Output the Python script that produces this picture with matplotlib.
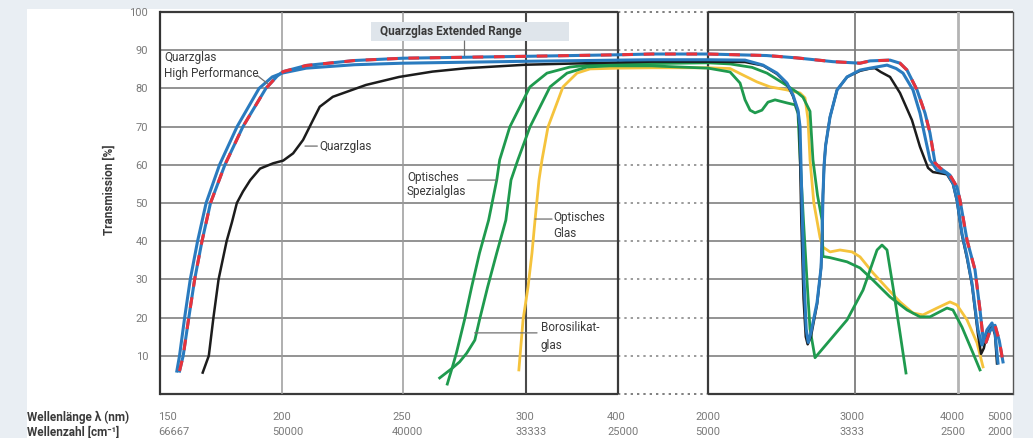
import numpy as np
import matplotlib
matplotlib.use('Agg')
import matplotlib.pyplot as plt
from matplotlib.patches import Rectangle
from matplotlib import transforms
from matplotlib.ticker import NullLocator

plt.rcParams['font.family'] = ['Roboto', 'DejaVu Sans']

# ---------------- data (wavelength nm, transmission %) ----------------
hp = [(156.9, 6), (158, 10), (160.1, 20), (162.4, 30), (165.4, 40), (168.9, 50), (174.4, 60),
      (181.6, 70), (190.6, 80), (196, 83), (200, 84), (210, 85.3), (230, 86.2), (250, 86.6),
      (300, 87.1), (400, 87.4), (1000, 87.5), (2000, 87.5), (2252, 87.4), (2374, 86.1),
      (2469, 84), (2537, 81.4), (2578, 78.3), (2612, 74.3), (2626, 70), (2639, 50), (2653, 30),
      (2668, 17), (2682, 13.5), (2700, 16), (2742, 24), (2769, 33), (2776, 40), (2782, 52),
      (2790, 60), (2800, 65), (2830, 72.5), (2878, 79.6), (2946, 83), (3049, 84.8), (3146, 85.3),
      (3250, 85.8), (3311, 86.1), (3400, 85.2), (3466, 84), (3563, 79.6), (3631, 73.5),
      (3680, 67.3), (3728, 61.3), (3796, 58.6), (3893, 57.8), (3951, 55.2), (3990, 50.8),
      (4073, 42), (4164, 36), (4255, 29), (4309, 22.8), (4364, 16.8), (4436, 12.8),
      (4527, 16.8), (4618, 18.6), (4673, 16), (4727, 8.1)]

er = [(158.0, 6), (159.5, 10), (161.8, 20), (164.2, 30), (167.2, 40), (170.7, 50), (176.6, 60),
      (184, 70), (193.4, 80), (198, 83.2), (200.5, 84.4), (210, 86), (230, 87.3), (250, 87.9),
      (300, 88.4), (400, 88.8), (1000, 89), (2000, 89), (2400, 88.6), (2600, 88), (2850, 87),
      (3049, 86.6), (3146, 87.2), (3340, 87.4), (3437, 86.6), (3505, 84.8), (3602, 79.6),
      (3680, 73.5), (3728, 68.3), (3777, 60.5), (3825, 59.2), (3922, 57.3), (3990, 54.2),
      (4036, 50.8), (4164, 40.3), (4309, 32.5), (4400, 22), (4455, 14.7), (4509, 13.5),
      (4582, 16.5), (4673, 18), (4750, 14), (4818, 8.4)]

quarz = [(167.5, 5.6), (170, 10), (171.9, 20), (174, 30), (177.3, 40), (179.5, 45), (181.5, 50),
         (184, 53), (187, 56), (191, 59), (196.4, 60.4), (200.5, 61.1), (204.6, 63), (208.7, 66.5),
         (212.8, 71.7), (215.6, 75.2), (221, 77.8), (234.7, 80.9), (248.4, 83), (262, 84.4),
         (276, 85.3), (300, 86.2), (400, 86.8), (1000, 87.0), (2000, 87.0), (2252, 86.9),
         (2374, 86), (2469, 83.8), (2537, 81.2), (2578, 78), (2612, 74), (2622, 70), (2635, 45),
         (2650, 25), (2665, 15), (2678, 13), (2700, 15), (2742, 23.5), (2769, 33), (2776, 40),
         (2782, 52), (2790, 60), (2800, 65), (2830, 72.5), (2878, 79.6), (2946, 83), (3049, 84.6),
         (3146, 85.2), (3194, 85.3), (3250, 84.3), (3340, 83), (3437, 78.8), (3553, 71.7),
         (3631, 64.7), (3709, 59.2), (3757, 58.1), (3893, 57.5), (3951, 55), (3990, 50.5),
         (4073, 41.5), (4164, 35.5), (4255, 28.5), (4309, 22), (4364, 15.5), (4420, 10.5),
         (4470, 12), (4527, 16), (4618, 18), (4673, 15.5), (4709, 8)]

opt_glas = [(297.1, 6.3), (298.8, 19.4), (302.2, 28), (306.5, 36.9), (309.8, 45.5), (314.1, 56),
            (317.4, 61.3), (323.9, 69.9), (340.2, 80.4), (355.4, 84), (369.6, 85.1), (400, 85.3),
            (1000, 85.4), (2000, 85.4), (2150, 85.2), (2238, 83.5), (2333, 81.7), (2422, 80.4),
            (2537, 79.6), (2626, 78.8), (2660, 77.5), (2680, 72), (2694, 61.3), (2720, 50),
            (2748, 44), (2762, 41), (2780, 38.5), (2830, 37.2), (2898, 37.7), (2980, 37.2),
            (3049, 35.9), (3175, 31.7), (3311, 27.7), (3437, 24.1), (3563, 21.2), (3660, 20.7),
            (3796, 22.5), (3922, 24.1), (3990, 23.3), (4164, 19.4), (4345, 13.4), (4455, 7.1)]

spezial = [(268.0, 2.6), (270.1, 7.1), (271.7, 10.7), (275.0, 19.4), (277.9, 28), (281.1, 36.9),
           (284.8, 45.5), (288.1, 56), (289.3, 61.3), (293.4, 69.9), (304.3, 80.4), (322.8, 84),
           (347.8, 85.6), (369.6, 86.1), (400, 86.3), (1000, 86.5), (2000, 86.7), (2150, 86.4),
           (2300, 85.5), (2401, 84), (2510, 81.4), (2605, 79), (2646, 77.7), (2694, 74),
           (2714, 61.3), (2745, 52), (2776, 45.5), (2782, 36), (2830, 35.7), (2946, 34.6),
           (3049, 33), (3175, 29.8), (3340, 25.4), (3505, 22), (3631, 20.2), (3728, 20.2),
           (3893, 22.5), (3951, 22), (4073, 17.5), (4273, 10.7), (4400, 6.3)]

boro = [(264.9, 4.2), (270.1, 6.8), (273.0, 8.4), (275.9, 10.7), (279.2, 14.1), (281.1, 19.4),
        (284.4, 28), (288.1, 36.9), (291.8, 45.5), (293.9, 56), (296.7, 61.3), (304.3, 69.9),
        (326.1, 80.4), (344.6, 84), (366.3, 85.6), (391.3, 85.9), (1000, 85.9), (2000, 85.3),
        (2150, 84.3), (2218, 81.4), (2252, 77), (2286, 74.3), (2320, 73.6), (2367, 74.3),
        (2408, 76.4), (2456, 77), (2537, 76.2), (2592, 75.7), (2612, 73.5), (2626, 62),
        (2650, 45), (2673, 30), (2694, 17), (2728, 9.5), (2946, 19.4), (3078, 27.2),
        (3214, 37.7), (3262, 39), (3311, 37.7), (3369, 28), (3437, 16), (3495, 5.5)]

wl_ticks = [150, 200, 250, 300, 400, 2000, 3000, 4000, 5000]
wl_labels = ['150', '200', '250', '300', '400', '2000', '3000', '4000', '5000']
wn_labels = ['66667', '50000', '40000', '33333', '25000', '5000', '3333', '2500', '2000']
y_ticks = [10, 20, 30, 40, 50, 60, 70, 80, 90, 100]

# ---------------- layout ----------------
W, H = 1033, 438
fig = plt.figure(figsize=(W / 100, H / 100), dpi=100)
fig.patch.set_facecolor('#e9eef3')
fig.add_artist(Rectangle((27 / W, 0), (1013 - 27) / W, (H - 9) / H, transform=fig.transFigure,
                         facecolor='white', edgecolor='none', zorder=-10))

ax = fig.add_axes([160 / W, (H - 394) / H, (1013 - 160) / W, (394 - 12) / H])
ax.set_facecolor('white')

# broken / piecewise wavelength axis
SEG_NM = [150, 200, 250, 300, 400, 2000, 3000, 4000, 5000]
SEG_POS = [0, 122, 243, 366, 458, 548, 695, 798, 853]


def fwd(x):
    return np.interp(x, SEG_NM, SEG_POS)


def inv(p):
    return np.interp(p, SEG_POS, SEG_NM)


ax.set_xscale('function', functions=(fwd, inv))
ax.set_xlim(150, 5000)
ax.set_ylim(0, 100)

# grid
DOT = (0, (1.4, 2.4))
for y in range(10, 100, 10):
    ax.hlines(y, 150, 400, color='#808080', lw=1.2, zorder=1)
    ax.hlines(y, 400, 2000, color='#8a8a8a', lw=1.2, linestyles=[DOT], zorder=1)
    ax.hlines(y, 2000, 5000, color='#808080', lw=1.2, zorder=1)
for y in (0, 100):
    ax.hlines(y, 150, 400, color='#3a3a3a', lw=1.6, zorder=1, clip_on=False)
    ax.hlines(y, 400, 2000, color='#6a6a6a', lw=1.2, linestyles=[DOT], zorder=1, clip_on=False)
    ax.hlines(y, 2000, 5000, color='#3a3a3a', lw=1.6, zorder=1, clip_on=False)

vstyle = {200: ('#9a9a9a', 1.1), 250: ('#9a9a9a', 1.1), 300: ('#4a4a4a', 1.5),
          400: ('#3a3a3a', 1.6), 2000: ('#3a3a3a', 1.6), 3000: ('#7d7d7d', 1.3),
          4000: ('#b4b4b4', 2.0)}
for xv, (c, lw) in vstyle.items():
    ax.axvline(xv, color=c, lw=lw, zorder=1)

for s in ('top', 'bottom'):
    ax.spines[s].set_visible(False)
ax.spines['left'].set_color('#333333')
ax.spines['left'].set_linewidth(1.6)
ax.spines['right'].set_color('#555555')
ax.spines['right'].set_linewidth(1.0)

# ---------------- curves ----------------
BLUE = '#2a7bbf'
RED = '#e8323b'
GREEN = '#1f9a4e'
YELLOW = '#f5c33c'
BLACK = '#1c1c1c'


def xy(series):
    a = np.array(series, dtype=float)
    return a[:, 0], a[:, 1]


x, y = xy(opt_glas)
ax.plot(x, y, color=YELLOW, lw=2.0, zorder=3, solid_joinstyle='round')
x, y = xy(boro)
ax.plot(x, y, color=GREEN, lw=2.0, zorder=3, solid_joinstyle='round')
x, y = xy(spezial)
ax.plot(x, y, color=GREEN, lw=2.0, zorder=3, solid_joinstyle='round')
x, y = xy(quarz)
ax.plot(x, y, color=BLACK, lw=1.8, zorder=4, solid_joinstyle='round')
x, y = xy(hp)
ax.plot(x, y, color=BLUE, lw=2.2, zorder=5, solid_joinstyle='round')
x, y = xy(er)
ax.plot(x, y, color=BLUE, lw=2.2, zorder=6, solid_joinstyle='round')
ax.plot(x, y, color=RED, lw=2.2, zorder=7, linestyle=(0, (3.5, 3.5)), dash_capstyle='butt')

# ---------------- ticks ----------------
ax.set_xticks([])
ax.xaxis.set_minor_locator(NullLocator())
ax.set_yticks(y_ticks)
ax.set_yticklabels([str(v) for v in y_ticks])
ax.yaxis.set_minor_locator(NullLocator())
ax.tick_params(axis='y', length=0, pad=8.6, labelsize=8, labelcolor='#7a7a7a')

offsets = [-2, -10, -11, -11, -11, -13, -15, -18, -26]
base = transforms.blended_transform_factory(ax.transData, fig.transFigure)
for t, l1, l2, dx in zip(wl_ticks, wl_labels, wn_labels, offsets):
    tr = transforms.offset_copy(base, fig=fig, x=dx, y=0, units='dots')
    ax.text(t, (H - 417) / H, l1, transform=tr, ha='left', va='center', fontsize=8,
            color='#7a7a7a', clip_on=False)
    ax.text(t, (H - 432) / H, l2, transform=tr, ha='left', va='center', fontsize=8,
            color='#7a7a7a', clip_on=False)

fig.text(27 / W, (H - 417) / H, 'Wellenlänge λ (nm)', ha='left', va='center', fontsize=8.5,
         fontweight='bold', color='#3a3a3a')
fig.text(27 / W, (H - 432) / H, 'Wellenzahl [cm⁻¹]', ha='left', va='center', fontsize=8.5,
         fontweight='bold', color='#3a3a3a')
fig.text(109 / W, (H - 190) / H, 'Transmission [%]', rotation=90, ha='center', va='center',
         fontsize=8.5, fontweight='bold', color='#3a3a3a')

# ---------------- annotations ----------------
TXT = '#3a3a3a'
LEAD = dict(arrowstyle='-', color='#707070', lw=0.9, shrinkA=0, shrinkB=0)
FS = 8.5

ax.text(151.6, 88.0, 'Quarzglas', fontsize=FS, color=TXT, va='center', ha='left', zorder=8)
ax.text(151.6, 84.0, 'High Performance', fontsize=FS, color=TXT, va='center', ha='left', zorder=8)
ax.annotate('', xy=(194, 81.3), xytext=(189.8, 83.4), arrowprops=LEAD, zorder=8)

ax.text(215.6, 64.9, 'Quarzglas', fontsize=FS, color=TXT, va='center', ha='left', zorder=8)
ax.annotate('', xy=(209.5, 64.9), xytext=(214.6, 64.9), arrowprops=LEAD, zorder=8)

ax.add_patch(Rectangle((236.9, 92.4), 346.7 - 236.9, 5.0, facecolor='#dfe5eb', edgecolor='none',
                       zorder=2))
ax.text(240.6, 94.9, 'Quarzglas Extended Range', fontsize=FS, color=TXT, va='center', ha='left',
        fontweight='bold', zorder=8)
ax.annotate('', xy=(275, 88.4), xytext=(275, 92.4), arrowprops=LEAD, zorder=2)

ax.text(251.6, 56.8, 'Optisches', fontsize=FS, color=TXT, va='center', ha='left', zorder=8)
ax.text(251.6, 52.9, 'Spezialglas', fontsize=FS, color=TXT, va='center', ha='left', zorder=8)
ax.annotate('', xy=(288.1, 56.0), xytext=(276.2, 56.0), arrowprops=LEAD, zorder=8)

ax.text(329.3, 46.3, 'Optisches', fontsize=FS, color=TXT, va='center', ha='left', zorder=8)
ax.text(329.3, 42.1, 'Glas', fontsize=FS, color=TXT, va='center', ha='left', zorder=8)
ax.annotate('', xy=(309.8, 45.8), xytext=(328.3, 45.8), arrowprops=LEAD, zorder=8)

ax.text(316.3, 17.3, 'Borosilikat-', fontsize=FS, color=TXT, va='center', ha='left', zorder=8)
ax.text(316.3, 12.6, 'glas', fontsize=FS, color=TXT, va='center', ha='left', zorder=8)
ax.annotate('', xy=(279.1, 16.0), xytext=(312.0, 16.0), arrowprops=LEAD, zorder=8)

fig.savefig('out.png', dpi=100, facecolor=fig.get_facecolor())
